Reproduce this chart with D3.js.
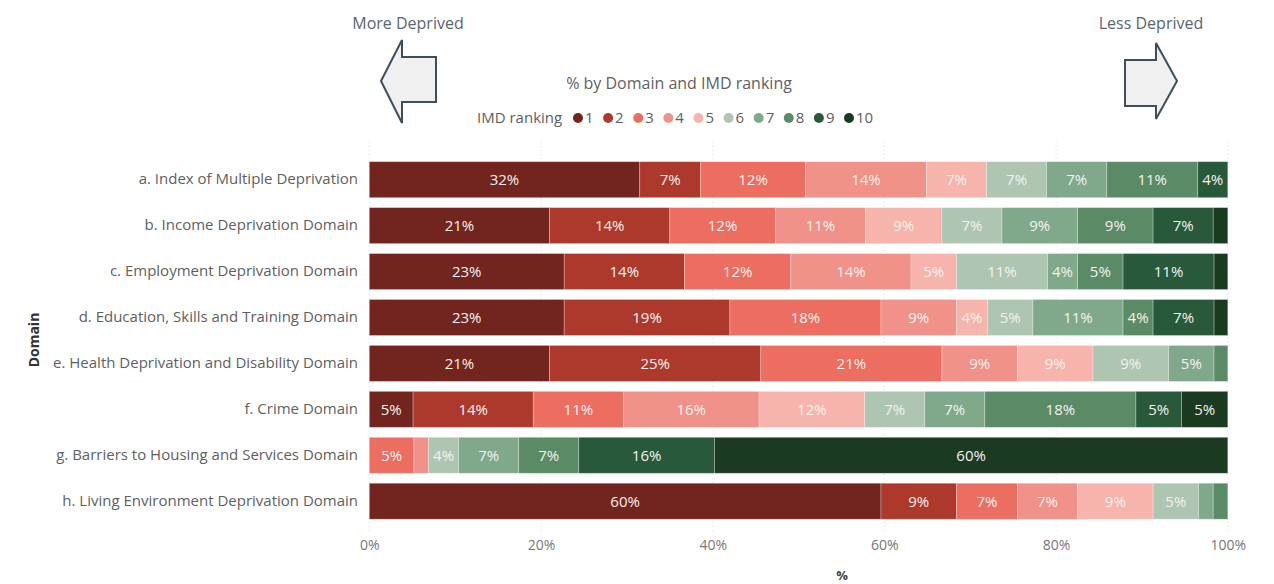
<!DOCTYPE html>
<html>
<head>
<meta charset="utf-8">
<script src="https://cdn.jsdelivr.net/npm/d3@7"></script>
<style>
  html, body { margin: 0; padding: 0; background: #ffffff; }
  svg { display: block; font-family: "Open Sans", "Noto Sans", sans-serif; }
</style>
</head>
<body>
<svg id="chart" width="1274" height="584"></svg>
<script>
// Domains (top to bottom)
const domains = [
  "a. Index of Multiple Deprivation",
  "b. Income Deprivation Domain",
  "c. Employment Deprivation Domain",
  "d. Education, Skills and Training Domain",
  "e. Health Deprivation and Disability Domain",
  "f. Crime Domain",
  "g. Barriers to Housing and Services Domain",
  "h. Living Environment Deprivation Domain"
];

// IMD ranking deciles 1 (most deprived) .. 10 (least deprived)
const rankings = ["1", "2", "3", "4", "5", "6", "7", "8", "9", "10"];

// Share (%) of areas in each decile, one array per domain
const imdShare       = [31.5, 7.1, 12.2, 14.1, 7.0, 7.0, 7.0, 10.6, 3.5, 0];
const incomeShare    = [21.0, 14.0, 12.3, 10.5, 8.9, 7.0, 8.8, 8.8, 7.0, 1.7];
const employShare    = [22.7, 14.0, 12.4, 14.0, 5.3, 10.6, 3.5, 5.3, 10.6, 1.6];
const educationShare = [22.7, 19.3, 17.6, 8.8, 3.6, 5.3, 10.5, 3.5, 7.1, 1.6];
const healthShare    = [21.0, 24.6, 21.1, 8.8, 8.8, 8.8, 5.3, 1.6, 0, 0];
const crimeShare     = [5.1, 14.0, 10.5, 15.8, 12.3, 7.0, 7.0, 17.6, 5.3, 5.4];
const barriersShare  = [0, 0, 5.2, 1.7, 0, 3.5, 7.0, 7.0, 15.8, 59.8];
const livingShare    = [59.6, 8.8, 7.1, 7.0, 8.8, 5.3, 1.7, 1.7, 0, 0];

const shares = [imdShare, incomeShare, employShare, educationShare,
                healthShare, crimeShare, barriersShare, livingShare];

const rankColors = ["#72241e", "#ad392d", "#ec6e60", "#f0928a", "#f6b4ac",
                    "#aec6b1", "#80a88a", "#5b8b66", "#27593a", "#1b3a22"];

const xTicks = [0, 20, 40, 60, 80, 100];

// Build a table usable by d3.stack
const table = domains.map((d, i) => {
  const row = { domain: d };
  rankings.forEach((r, j) => { row[r] = shares[i][j]; });
  return row;
});

const svg = d3.select("#chart");
const textGrey = "#5f5f5f";

const x = d3.scaleLinear().domain([0, 100]).range([369.3, 1227.8]);
const y = d3.scaleBand().domain(domains).range([156.7, 524.2])
  .paddingInner(0.2164).paddingOuter(0.1082);
const color = d3.scaleOrdinal().domain(rankings).range(rankColors);

// Vertical dotted gridlines
svg.append("g")
  .selectAll("line")
  .data(xTicks)
  .join("line")
  .attr("x1", d => x(d)).attr("x2", d => x(d))
  .attr("y1", 142).attr("y2", 534)
  .attr("stroke", "#d9d9d9")
  .attr("stroke-width", 1)
  .attr("stroke-dasharray", "1,3");

// X axis labels
const xAxis = d3.axisBottom(x).tickValues(xTicks).tickFormat(d => d + "%").tickSize(0).tickPadding(0);
const xg = svg.append("g").attr("transform", "translate(0,540)").call(xAxis);
xg.select(".domain").remove();
xg.selectAll("text")
  .attr("dy", "0.71em")
  .attr("fill", "#777777")
  .style("font-size", "14px")
  .style("font-family", "'Open Sans', sans-serif");

// Y axis labels
const yAxis = d3.axisLeft(y).tickSize(0).tickPadding(0);
const yg = svg.append("g").attr("transform", "translate(358,0)").call(yAxis);
yg.select(".domain").remove();
yg.selectAll("text")
  .attr("fill", textGrey)
  .style("font-size", "15px")
  .style("font-family", "'Open Sans', sans-serif");

// Stacked bars
const stack = d3.stack().keys(rankings);
const series = stack(table);

const layer = svg.append("g")
  .selectAll("g")
  .data(series)
  .join("g")
  .attr("fill", d => color(d.key));

layer.selectAll("rect")
  .data(d => d.map(p => ({ p, key: d.key })))
  .join("rect")
  .attr("x", d => x(d.p[0]))
  .attr("y", d => y(d.p.data.domain))
  .attr("width", d => Math.max(0, x(d.p[1]) - x(d.p[0])))
  .attr("height", y.bandwidth())
  .attr("stroke", "#ffffff")
  .attr("stroke-opacity", 0.35)
  .attr("stroke-width", 0.8);

// Data labels for segments wide enough to hold them
layer.selectAll("text")
  .data(d => d.map(p => ({ p, key: d.key })).filter(d => d.p[1] - d.p[0] >= 3))
  .join("text")
  .attr("x", d => (x(d.p[0]) + x(d.p[1])) / 2)
  .attr("y", d => y(d.p.data.domain) + y.bandwidth() / 2)
  .attr("dy", "0.36em")
  .attr("text-anchor", "middle")
  .attr("fill", "#f4f1ef")
  .style("font-size", "15px")
  .text(d => Math.round(d.p[1] - d.p[0]) + "%");

// Axis titles
svg.append("text")
  .attr("x", 842).attr("y", 580)
  .attr("text-anchor", "middle")
  .attr("fill", "#444")
  .style("font-size", "13px")
  .style("font-weight", "bold")
  .text("%");

svg.append("text")
  .attr("transform", "translate(39,340) rotate(-90)")
  .attr("text-anchor", "middle")
  .attr("fill", "#333")
  .style("font-size", "14px")
  .style("font-weight", "bold")
  .text("Domain");

// Chart title
svg.append("text")
  .attr("x", 679).attr("y", 89)
  .attr("text-anchor", "middle")
  .attr("fill", textGrey)
  .style("font-size", "16px")
  .text("% by Domain and IMD ranking");

// Legend
const legend = svg.append("g");
legend.append("text")
  .attr("x", 477).attr("y", 123)
  .attr("fill", textGrey)
  .style("font-size", "15px")
  .text("IMD ranking");

const lx = d3.scalePoint().domain(rankings).range([578, 849]);
const item = legend.selectAll("g.item")
  .data(rankings)
  .join("g")
  .attr("class", "item")
  .attr("transform", d => `translate(${lx(d)},118)`);
item.append("circle").attr("r", 5).attr("fill", d => color(d));
item.append("text")
  .attr("x", 7).attr("dy", "0.36em")
  .attr("fill", textGrey)
  .style("font-size", "15px")
  .text(d => d);

// Direction arrows
const arrowStyle = sel => sel.attr("fill", "#f0f0f0").attr("stroke", "#3e4f5c")
  .attr("stroke-width", 2).attr("stroke-linejoin", "miter");

const leftArrow = [[381, 81], [402, 40], [402, 57], [436, 57], [436, 102], [402, 102], [402, 123]];
const rightArrow = [[1177, 81], [1156, 43], [1156, 60], [1125, 60], [1125, 106], [1156, 106], [1156, 119]];
svg.append("polygon").attr("points", leftArrow.map(p => p.join(",")).join(" ")).call(arrowStyle);
svg.append("polygon").attr("points", rightArrow.map(p => p.join(",")).join(" ")).call(arrowStyle);

svg.append("text")
  .attr("x", 408).attr("y", 29)
  .attr("text-anchor", "middle")
  .attr("fill", "#5a6570")
  .style("font-size", "16px")
  .text("More Deprived");

svg.append("text")
  .attr("x", 1151).attr("y", 29)
  .attr("text-anchor", "middle")
  .attr("fill", "#5a6570")
  .style("font-size", "16px")
  .text("Less Deprived");
</script>
</body>
</html>
